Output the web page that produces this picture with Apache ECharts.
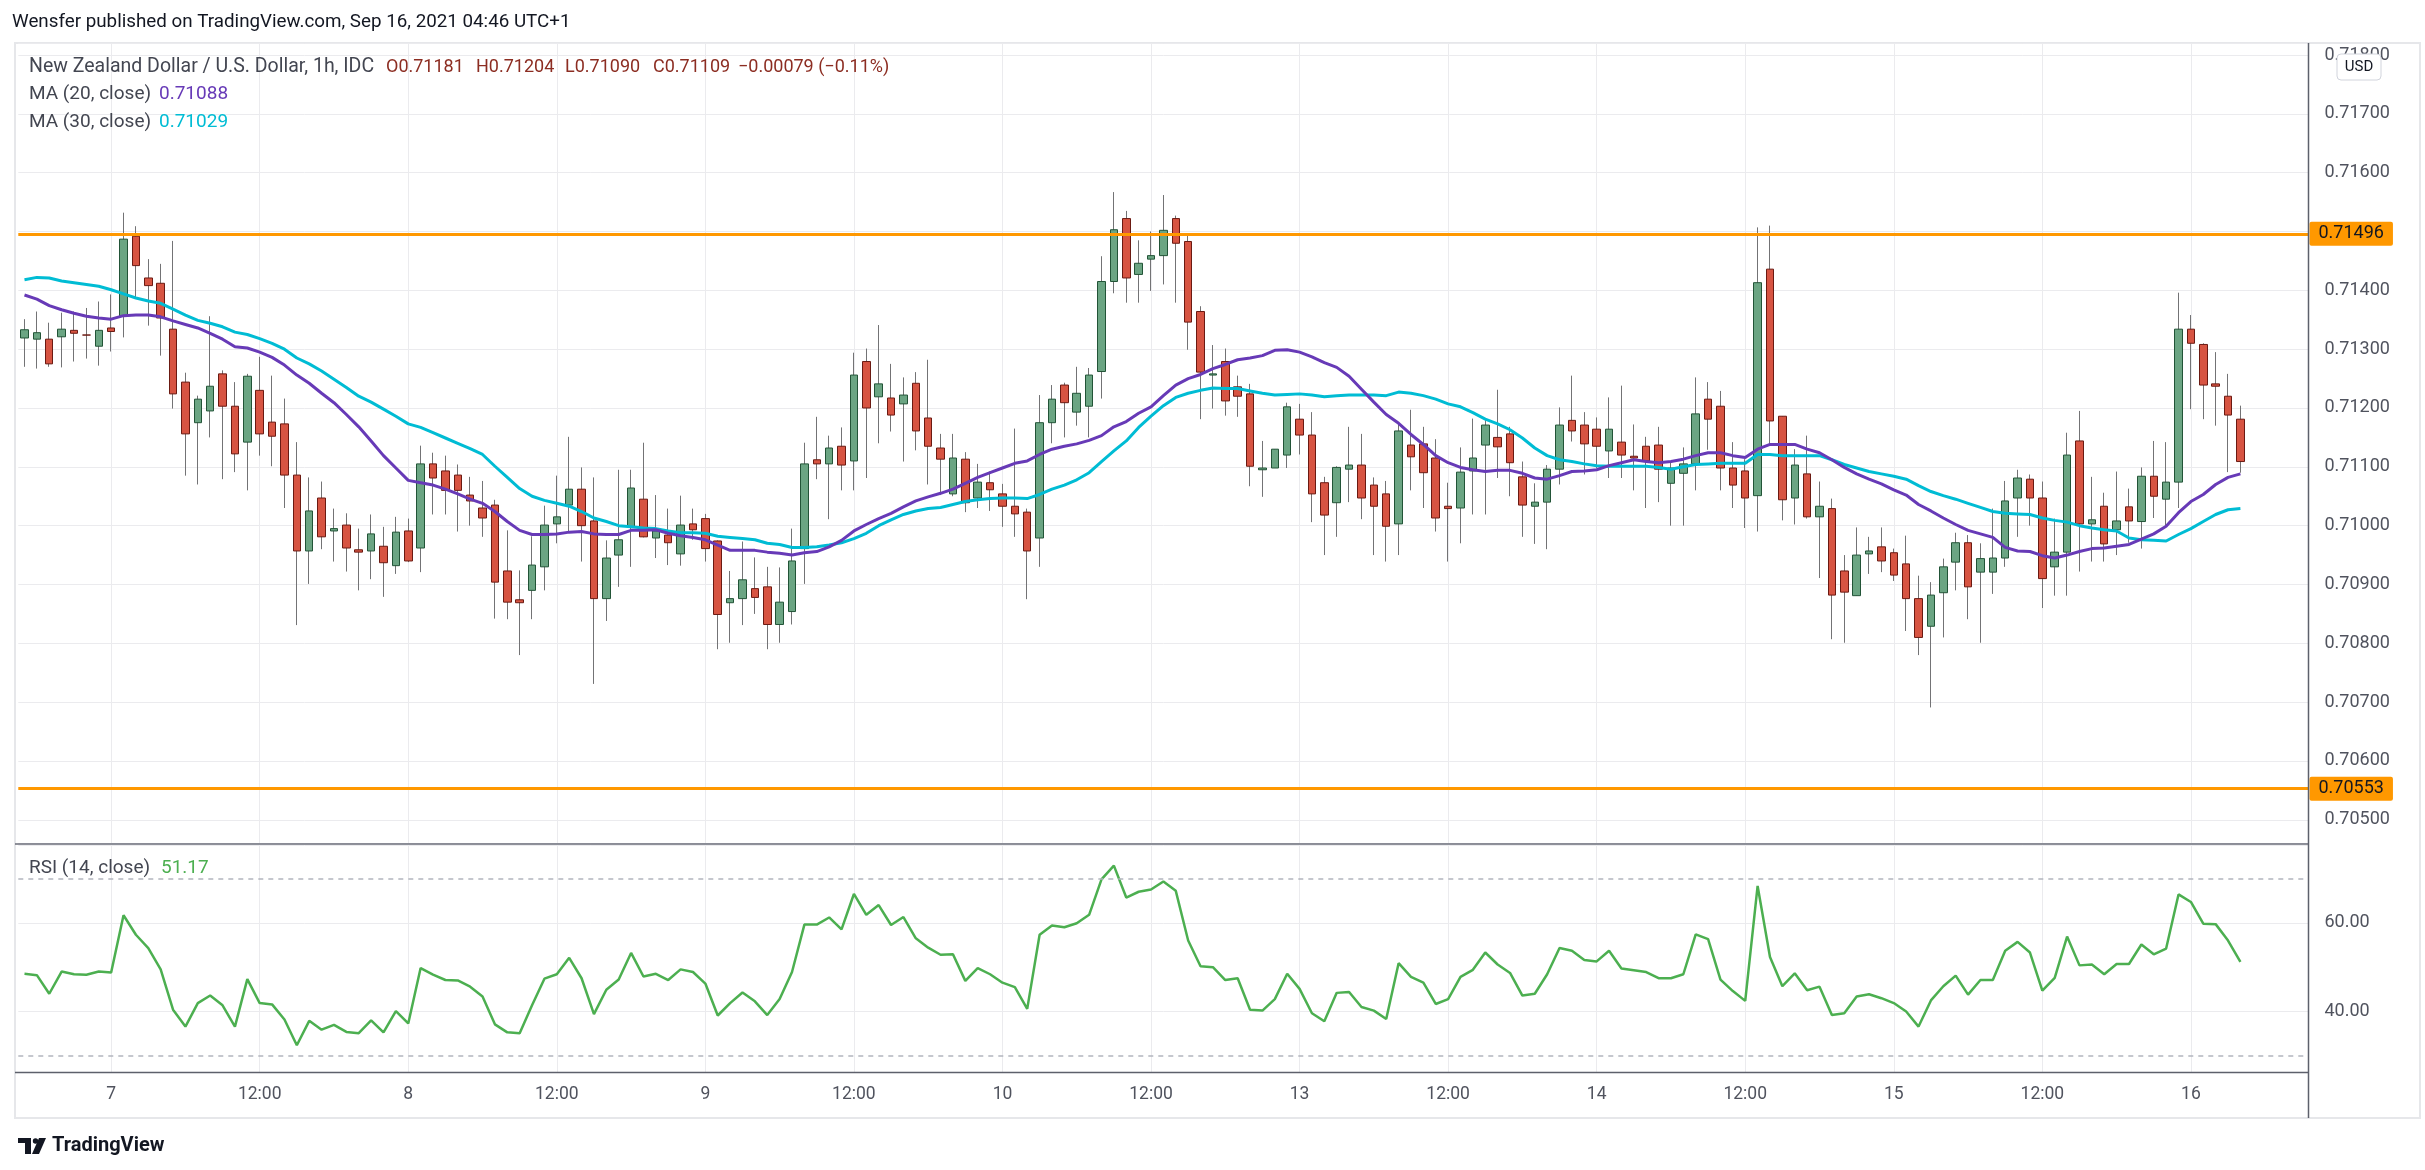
<!DOCTYPE html>
<html><head><meta charset="utf-8">
<script src="https://cdn.jsdelivr.net/npm/echarts@6/dist/echarts.min.js"></script>
<style>html,body{margin:0;padding:0;background:#fff}#c{width:2425px;height:1170px}</style>
</head><body><div id="c"></div>
<script>
// hourly sessions (UTC+1): [first candle, number of hourly slots]
const sessions = [["2021-09-06 17:00", 101], ["2021-09-12 22:00", 84]];

const opens = [0.71319,0.71317,0.71317,0.71321,0.71332,0.71324,0.71305,0.71336,0.71356,0.71492,
0.71421,0.71412,0.71334,0.71244,0.71175,0.71195,0.71258,0.71203,0.71142,0.71230,
0.71176,0.71173,0.71086,0.70957,0.71047,0.70991,0.71001,0.70959,0.70957,0.70965,
0.70932,0.70991,0.70962,0.71105,0.71093,0.71086,0.71052,0.71030,0.71035,0.70923,
0.70874,0.70890,0.70930,0.71003,0.71035,0.71062,0.71008,0.70876,0.70950,0.70998,
0.71045,0.70979,0.70984,0.70952,0.71003,0.71012,0.70974,0.70869,0.70876,0.70893,
0.70896,0.70832,0.70854,0.70961,0.71112,0.71105,0.71135,0.71110,0.71279,0.71219,
0.71217,0.71207,0.71242,0.71183,0.71132,0.71054,0.71113,0.71047,0.71073,0.71054,
0.71033,0.71023,0.70979,0.71175,0.71239,0.71193,0.71203,0.71262,0.71415,0.71522,
0.71427,0.71453,0.71459,0.71522,0.71483,0.71364,0.71256,0.71279,0.71236,0.71224,
0.71095,0.71098,0.71120,0.71181,0.71154,0.71073,0.71039,0.71096,0.71103,0.71069,
0.71054,0.71003,0.71137,0.71139,0.71115,0.71033,0.71030,0.71093,0.71137,0.71150,
0.71156,0.71083,0.71033,0.71040,0.71096,0.71179,0.71171,0.71164,0.71127,0.71142,
0.71118,0.71135,0.71137,0.71072,0.71089,0.71105,0.71215,0.71203,0.71098,0.71093,
0.71051,0.71436,0.71186,0.71047,0.71088,0.71015,0.71029,0.70923,0.70881,0.70952,
0.70964,0.70954,0.70935,0.70876,0.70829,0.70886,0.70938,0.70971,0.70921,0.70921,
0.70945,0.71047,0.71079,0.71047,0.70930,0.70955,0.71144,0.71003,0.71033,0.70993,
0.71032,0.71007,0.71084,0.71045,0.71074,0.71334,0.71308,0.71241,0.71220,0.71181];

const highs = [0.71351,0.71364,0.71345,0.71362,0.71364,0.71370,0.71381,0.71393,0.71532,0.71509,
0.71453,0.71445,0.71484,0.71260,0.71221,0.71356,0.71264,0.71244,0.71258,0.71287,
0.71255,0.71216,0.71142,0.71082,0.71075,0.71029,0.71021,0.70995,0.71019,0.70998,
0.71015,0.71012,0.71136,0.71124,0.71119,0.71104,0.71083,0.71076,0.71044,0.70992,
0.70924,0.70982,0.71034,0.71085,0.71151,0.71099,0.71082,0.70975,0.71095,0.71095,
0.71141,0.71052,0.71029,0.71051,0.71029,0.71020,0.70975,0.70923,0.70973,0.70946,
0.70930,0.70929,0.70995,0.71141,0.71185,0.71153,0.71167,0.71294,0.71301,0.71341,
0.71275,0.71252,0.71261,0.71282,0.71156,0.71156,0.71125,0.71105,0.71092,0.71071,
0.71165,0.71029,0.71222,0.71239,0.71243,0.71270,0.71268,0.71458,0.71567,0.71535,
0.71485,0.71500,0.71562,0.71527,0.71493,0.71373,0.71307,0.71301,0.71255,0.71241,
0.71144,0.71130,0.71209,0.71207,0.71193,0.71083,0.71101,0.71168,0.71156,0.71082,
0.71076,0.71174,0.71197,0.71168,0.71147,0.71073,0.71133,0.71182,0.71182,0.71231,
0.71168,0.71109,0.71072,0.71103,0.71201,0.71255,0.71193,0.71184,0.71218,0.71238,
0.71172,0.71151,0.71168,0.71107,0.71133,0.71252,0.71244,0.71229,0.71142,0.71113,
0.71507,0.71510,0.71186,0.71130,0.71153,0.71075,0.71046,0.70950,0.70997,0.70981,
0.70997,0.70961,0.70983,0.70915,0.70904,0.70944,0.70988,0.70984,0.70970,0.71029,
0.71076,0.71095,0.71087,0.71075,0.71012,0.71158,0.71195,0.71083,0.71056,0.71092,
0.71063,0.71099,0.71144,0.71142,0.71396,0.71358,0.71310,0.71295,0.71258,0.71204];

const lows = [0.71270,0.71267,0.71270,0.71269,0.71279,0.71284,0.71272,0.71296,0.71320,0.71388,
0.71340,0.71289,0.71199,0.71085,0.71070,0.71150,0.71079,0.71091,0.71060,0.71119,
0.71101,0.71030,0.70831,0.70901,0.70960,0.70939,0.70922,0.70890,0.70909,0.70879,
0.70918,0.70938,0.70921,0.71019,0.71019,0.70990,0.71000,0.70981,0.70842,0.70841,
0.70780,0.70841,0.70890,0.70970,0.70990,0.70939,0.70731,0.70838,0.70896,0.70930,
0.70980,0.70945,0.70933,0.70932,0.70976,0.70939,0.70790,0.70801,0.70831,0.70850,
0.70790,0.70801,0.70832,0.70901,0.71079,0.71011,0.71060,0.71060,0.71081,0.71140,
0.71160,0.71109,0.71128,0.71070,0.71052,0.71050,0.71023,0.71030,0.71025,0.70998,
0.70981,0.70875,0.70930,0.71140,0.71150,0.71170,0.71150,0.71216,0.71395,0.71379,
0.71379,0.71399,0.71410,0.71379,0.71299,0.71181,0.71199,0.71187,0.71185,0.71067,
0.71049,0.71098,0.71098,0.71121,0.71006,0.70950,0.70981,0.71040,0.71011,0.70950,
0.70939,0.70950,0.71060,0.71030,0.70990,0.70939,0.70970,0.71019,0.71019,0.71081,
0.71050,0.70981,0.70969,0.70960,0.71070,0.71143,0.71087,0.71098,0.71081,0.71081,
0.71060,0.71030,0.71040,0.71000,0.71000,0.71060,0.71129,0.71060,0.71030,0.70996,
0.70990,0.71137,0.71009,0.71002,0.71012,0.70911,0.70807,0.70801,0.70881,0.70918,
0.70921,0.70906,0.70821,0.70780,0.70691,0.70810,0.70890,0.70841,0.70801,0.70884,
0.70930,0.70981,0.71000,0.70860,0.70881,0.70881,0.70922,0.70939,0.70939,0.70950,
0.70971,0.70961,0.71013,0.70999,0.71030,0.71198,0.71181,0.71170,0.71091,0.71090];

const closes = [0.71333,0.71328,0.71275,0.71334,0.71327,0.71324,0.71332,0.71330,0.71487,0.71442,
0.71408,0.71353,0.71224,0.71156,0.71215,0.71237,0.71203,0.71122,0.71254,0.71156,
0.71152,0.71086,0.70957,0.71025,0.70981,0.70995,0.70962,0.70955,0.70986,0.70937,
0.70989,0.70940,0.71105,0.71081,0.71060,0.71060,0.71042,0.71013,0.70904,0.70870,
0.70869,0.70933,0.71001,0.71015,0.71062,0.71000,0.70876,0.70945,0.70976,0.71064,
0.70981,0.70991,0.70971,0.71001,0.70993,0.70961,0.70849,0.70876,0.70908,0.70878,
0.70832,0.70870,0.70940,0.71105,0.71105,0.71132,0.71103,0.71256,0.71200,0.71241,
0.71188,0.71222,0.71161,0.71135,0.71113,0.71115,0.71039,0.71074,0.71061,0.71033,
0.71020,0.70957,0.71175,0.71215,0.71209,0.71225,0.71256,0.71415,0.71503,0.71421,
0.71446,0.71459,0.71502,0.71480,0.71346,0.71261,0.71258,0.71212,0.71220,0.71101,
0.71098,0.71130,0.71202,0.71154,0.71054,0.71018,0.71099,0.71103,0.71047,0.71033,
0.70999,0.71161,0.71117,0.71090,0.71013,0.71029,0.71091,0.71115,0.71171,0.71134,
0.71107,0.71035,0.71040,0.71096,0.71171,0.71161,0.71139,0.71135,0.71164,0.71120,
0.71115,0.71110,0.71096,0.71098,0.71105,0.71190,0.71181,0.71098,0.71069,0.71047,
0.71413,0.71178,0.71044,0.71103,0.71015,0.71033,0.70882,0.70887,0.70950,0.70957,
0.70940,0.70916,0.70876,0.70810,0.70882,0.70930,0.70971,0.70896,0.70944,0.70945,
0.71042,0.71081,0.71047,0.70910,0.70955,0.71120,0.71003,0.71010,0.70969,0.71008,
0.71008,0.71084,0.71050,0.71074,0.71334,0.71310,0.71239,0.71237,0.71188,0.71109];

const ma20 = [0.71392,0.71385,0.71374,0.71367,0.71361,0.71356,0.71353,0.71351,0.71357,0.71358,
0.71358,0.71355,0.71348,0.71342,0.71336,0.71327,0.71317,0.71304,0.71302,0.71295,
0.71286,0.71273,0.71256,0.71242,0.71225,0.71209,0.71189,0.71168,0.71144,0.71119,
0.71098,0.71077,0.71073,0.71069,0.71062,0.71054,0.71045,0.71038,0.71024,0.71007,
0.70992,0.70985,0.70985,0.70986,0.70989,0.70990,0.70986,0.70985,0.70985,0.70992,
0.70992,0.70993,0.70987,0.70983,0.70980,0.70976,0.70967,0.70958,0.70958,0.70958,
0.70955,0.70953,0.70950,0.70954,0.70956,0.70964,0.70975,0.70991,0.71002,0.71012,
0.71021,0.71032,0.71042,0.71049,0.71055,0.71062,0.71072,0.71082,0.71090,0.71098,
0.71106,0.71110,0.71121,0.71130,0.71135,0.71139,0.71145,0.71153,0.71168,0.71177,
0.71191,0.71202,0.71221,0.71239,0.71250,0.71257,0.71267,0.71274,0.71282,0.71285,
0.71289,0.71298,0.71299,0.71295,0.71287,0.71277,0.71269,0.71254,0.71232,0.71210,
0.71189,0.71174,0.71155,0.71138,0.71119,0.71107,0.71099,0.71095,0.71092,0.71094,
0.71094,0.71089,0.71081,0.71079,0.71085,0.71092,0.71093,0.71095,0.71102,0.71107,
0.71112,0.71109,0.71107,0.71109,0.71113,0.71119,0.71124,0.71124,0.71119,0.71116,
0.71130,0.71138,0.71138,0.71138,0.71130,0.71124,0.71112,0.71099,0.71088,0.71079,
0.71071,0.71061,0.71052,0.71036,0.71025,0.71013,0.71002,0.70992,0.70986,0.70980,
0.70963,0.70957,0.70956,0.70949,0.70945,0.70950,0.70956,0.70961,0.70962,0.70965,
0.70968,0.70977,0.70986,0.70999,0.71022,0.71041,0.71053,0.71070,0.71082,0.71088];

const ma30 = [0.71418,0.71422,0.71421,0.71416,0.71413,0.71410,0.71407,0.71401,0.71394,0.71387,
0.71382,0.71378,0.71368,0.71358,0.71349,0.71344,0.71338,0.71329,0.71325,0.71318,
0.71310,0.71300,0.71285,0.71275,0.71263,0.71249,0.71235,0.71220,0.71210,0.71198,
0.71186,0.71173,0.71167,0.71158,0.71149,0.71140,0.71131,0.71121,0.71101,0.71082,
0.71063,0.71050,0.71043,0.71038,0.71033,0.71024,0.71013,0.71007,0.71000,0.70998,
0.70996,0.70995,0.70991,0.70988,0.70988,0.70987,0.70982,0.70980,0.70978,0.70976,
0.70970,0.70968,0.70963,0.70963,0.70964,0.70967,0.70971,0.70978,0.70987,0.71000,
0.71010,0.71019,0.71025,0.71029,0.71031,0.71036,0.71041,0.71044,0.71046,0.71047,
0.71047,0.71046,0.71053,0.71062,0.71069,0.71078,0.71090,0.71109,0.71127,0.71144,
0.71167,0.71186,0.71204,0.71218,0.71225,0.71230,0.71234,0.71233,0.71233,0.71229,
0.71225,0.71222,0.71223,0.71224,0.71222,0.71219,0.71221,0.71222,0.71222,0.71222,
0.71221,0.71227,0.71225,0.71221,0.71215,0.71207,0.71202,0.71192,0.71181,0.71173,
0.71163,0.71149,0.71132,0.71119,0.71112,0.71109,0.71105,0.71102,0.71101,0.71101,
0.71101,0.71101,0.71099,0.71096,0.71100,0.71104,0.71105,0.71106,0.71106,0.71106,
0.71121,0.71121,0.71119,0.71119,0.71119,0.71119,0.71112,0.71104,0.71098,0.71092,
0.71088,0.71084,0.71079,0.71068,0.71058,0.71051,0.71045,0.71038,0.71031,0.71024,
0.71021,0.71020,0.71019,0.71013,0.71009,0.71006,0.71000,0.70996,0.70993,0.70991,
0.70979,0.70976,0.70975,0.70974,0.70985,0.70995,0.71007,0.71019,0.71027,0.71029];

const rsi = [48.5,48.2,44.0,49.0,48.4,48.3,49.0,48.8,61.7,57.3,
54.3,49.5,40.4,36.6,41.9,43.6,41.4,36.6,47.3,41.9,
41.6,38.2,32.4,37.9,35.9,37.0,35.4,35.1,38.0,35.3,
40.1,37.3,49.8,48.3,47.1,47.0,45.6,43.4,37.1,35.3,
35.1,41.4,47.4,48.4,52.1,47.5,39.4,44.9,47.2,53.2,
47.9,48.5,47.1,49.5,48.9,46.3,39.1,41.9,44.3,42.3,
39.2,42.8,48.9,59.6,59.6,61.2,58.5,66.5,61.8,64.0,
59.5,61.3,56.5,54.4,52.8,52.9,46.9,49.8,48.4,46.5,
45.5,40.6,57.3,59.4,59.0,59.9,61.8,69.8,72.9,65.7,
67.0,67.5,69.3,67.2,56.0,50.2,50.0,47.1,47.5,40.4,
40.2,42.8,48.5,45.1,39.6,37.8,44.2,44.4,41.0,40.2,
38.3,50.9,47.8,46.5,41.7,42.8,47.8,49.4,53.3,50.6,
48.7,43.6,44.0,48.4,54.3,53.7,51.6,51.3,53.7,49.7,
49.3,48.9,47.5,47.5,48.4,57.4,56.3,47.2,44.6,42.4,
68.3,52.3,45.7,48.6,44.8,45.6,39.2,39.6,43.4,43.9,
43.0,41.9,40.0,36.6,42.5,45.7,48.1,43.8,47.1,47.1,
53.7,55.7,53.3,44.7,47.6,56.9,50.4,50.6,48.4,50.7,
50.7,55.1,52.9,54.2,66.4,64.7,59.8,59.7,56.0,51.17];

const levels = [0.71496, 0.70553];
const rsiBands = [70, 30];
const tickIdx = [7,19,31,43,55,67,79,91,103,115,127,139,151,163,175];
const tickText = ['7','12:00','8','12:00','9','12:00','10','12:00','13','12:00','14','12:00','15','12:00','16'];

// build category list
const times = [];
for (const [start, count] of sessions) {
  const t0 = Date.parse(start.replace(' ', 'T') + ':00Z');
  for (let k = 0; k < count; k++) {
    times.push(new Date(t0 + k * 3600000).toISOString().slice(0, 16).replace('T', ' '));
  }
}

const N = opens.length, last = N - 1;
const fullCandles = opens.map((o, i) => [o, closes[i], lows[i], highs[i]]);
const bodies = opens.map((o, i) => [o, closes[i], Math.min(o, closes[i]), Math.max(o, closes[i])]);
const chg = closes[last] - closes[last - 1];
const chgPct = chg / closes[last - 1] * 100;
const signed = (v, d) => (v < 0 ? '\u2212' : '') + Math.abs(v).toFixed(d);

const FONT = 'Roboto';
const AXR = 2308.5;
const GL = 18.3, GR = 2425 - AXR;
const isTick = i => tickIdx.indexOf(i) >= 0;

const chart = echarts.init(document.getElementById('c'), null, {renderer: 'canvas'});
const txt = (x, y, text, color, size, extra) => ({
  type: 'text', x: x, y: y, silent: true, z: 100,
  style: Object.assign({text: text, fill: color, fontSize: size || 19, fontFamily: FONT, fontWeight: 'normal',
                        verticalAlign: 'middle', align: 'left'}, extra || {})
});
const legendColor = '#8c2d22';
const option = {
  animation: false,
  backgroundColor: '#ffffff',
  textStyle: {fontFamily: FONT},
  grid: [
    {left: GL, right: GR, top: 43, height: 800, containLabel: false, outerBoundsMode: 'none'},
    {left: GL, right: GR, top: 845, height: 227, containLabel: false, outerBoundsMode: 'none'}
  ],
  xAxis: [0, 1].map(g => ({
    type: 'category', gridIndex: g, data: times, boundaryGap: true,
    axisLine: {show: false}, axisTick: {show: false},
    axisLabel: g === 1 ? {
      show: true, interval: (i) => isTick(i),
      formatter: (v, i) => tickText[tickIdx.indexOf(i)],
      color: '#50535e', fontSize: 17.5, margin: 14, fontFamily: FONT
    } : {show: false},
    splitLine: {show: true, alignWithLabel: true, interval: (i) => isTick(i), lineStyle: {color: '#ebebee', width: 1}}
  })),
  yAxis: [
    {type: 'value', gridIndex: 0, position: 'right', min: 0.704606, max: 0.718204, splitNumber: 13, scale: true,
     axisLine: {show: false}, axisTick: {show: false},
     axisLabel: {formatter: v => v.toFixed(5), color: '#50535e', fontSize: 18, margin: 16, showMinLabel: false, showMaxLabel: false, fontFamily: FONT},
     splitLine: {lineStyle: {color: '#ebebee', width: 1}}},
    {type: 'value', gridIndex: 1, position: 'right', min: 26.36, max: 77.54, splitNumber: 3, scale: true,
     axisLine: {show: false}, axisTick: {show: false},
     axisLabel: {formatter: v => v.toFixed(2), color: '#50535e', fontSize: 18, margin: 16, showMinLabel: false, showMaxLabel: false, fontFamily: FONT},
     splitLine: {lineStyle: {color: '#ebebee', width: 1}}}
  ],
  series: [
    {type: 'candlestick', name: 'wick', xAxisIndex: 0, yAxisIndex: 0, data: fullCandles, barWidth: 1, z: 2,
     silent: true,
     itemStyle: {color: '#737375', color0: '#737375', borderColor: '#737375', borderColor0: '#737375', borderWidth: 1}},
    {type: 'candlestick', name: 'body', xAxisIndex: 0, yAxisIndex: 0, data: bodies, barWidth: 8, z: 3,
     silent: true,
     itemStyle: {color: '#6ba583', color0: '#d75442', borderColor: '#225437', borderColor0: '#6b1a12', borderWidth: 1}},
    {type: 'line', name: 'MA30', xAxisIndex: 0, yAxisIndex: 0, data: ma30, showSymbol: false, symbol: 'none', z: 4,
     silent: true, lineStyle: {color: '#00bcd4', width: 3}},
    {type: 'line', name: 'MA20', xAxisIndex: 0, yAxisIndex: 0, data: ma20, showSymbol: false, symbol: 'none', z: 5,
     silent: true, lineStyle: {color: '#673ab7', width: 3},
     markLine: {
       silent: true, symbol: ['none', 'none'], animation: false, precision: 6,
       lineStyle: {color: '#ff9800', width: 3, type: 'solid'},
       label: {show: true, position: 'end', distance: 1, backgroundColor: '#ff9800', color: '#131722',
               fontSize: 18, fontFamily: FONT, padding: [3, 9, 3, 9], borderRadius: 2},
       data: levels.map(v => ({yAxis: v, label: {formatter: v.toFixed(5)}}))
     }},
    {type: 'line', name: 'RSI', xAxisIndex: 1, yAxisIndex: 1, data: rsi, showSymbol: false, symbol: 'none', z: 4,
     silent: true, lineStyle: {color: '#4caf50', width: 2.5},
     markLine: {silent: true, symbol: ['none', 'none'], animation: false, label: {show: false},
                lineStyle: {color: '#b2b5be', width: 1.5, type: [5, 5]},
                data: rsiBands.map(v => ({yAxis: v}))}}
  ],
  graphic: [
    {type: 'rect', silent: true, z: -10, shape: {x: 15, y: 43, width: 2405, height: 1075}, style: {fill: 'none', stroke: '#e6e7ea', lineWidth: 2}},
    {type: 'line', silent: true, z: 50, shape: {x1: 15, y1: 844, x2: AXR, y2: 844}, style: {stroke: '#6a6d78', lineWidth: 1.5}},
    {type: 'line', silent: true, z: 50, shape: {x1: 15, y1: 1072.5, x2: AXR, y2: 1072.5}, style: {stroke: '#5d606b', lineWidth: 1.5}},
    {type: 'line', silent: true, z: 50, shape: {x1: AXR, y1: 43, x2: AXR, y2: 1118}, style: {stroke: '#5d606b', lineWidth: 1.5}},
    txt(12, 22, 'Wensfer published on TradingView.com, Sep 16, 2021 04:46 UTC+1', '#131722', 18.8),
    txt(29, 67, 'New Zealand Dollar / U.S. Dollar, 1h, IDC', '#434651', 19.5),
    txt(386, 67, 'O' + opens[last].toFixed(5), legendColor, 18),
    txt(476, 67, 'H' + highs[last].toFixed(5), legendColor, 18),
    txt(565, 67, 'L' + lows[last].toFixed(5), legendColor, 18),
    txt(653, 67, 'C' + closes[last].toFixed(5), legendColor, 18),
    txt(738, 67, signed(chg, 5) + ' (' + signed(chgPct, 2) + '%)', legendColor, 18),
    txt(29, 94, 'MA (20, close)', '#434651', 19),
    txt(159, 94, ma20[last].toFixed(5), '#673ab7', 19),
    txt(29, 122, 'MA (30, close)', '#434651', 19),
    txt(159, 122, ma30[last].toFixed(5), '#00bcd4', 19),
    txt(29, 868, 'RSI (14, close)', '#434651', 19),
    txt(161, 868, rsi[last].toFixed(2), '#4caf50', 19),
    {type: 'rect', silent: true, z: 100, shape: {x: 2337, y: 54, width: 44, height: 26, r: 4}, style: {fill: '#ffffff', stroke: '#d1d4dc', lineWidth: 1}},
    txt(2359, 67, 'USD', '#131722', 15, {align: 'center'}),
    {type: 'polygon', silent: true, z: 100, shape: {points: [[18,1138],[31,1138],[31,1154],[25,1154],[25,1143],[18,1143]]}, style: {fill: '#131722'}},
    {type: 'circle', silent: true, z: 100, shape: {cx: 35.5, cy: 1141, r: 2.7}, style: {fill: '#131722'}},
    {type: 'polygon', silent: true, z: 100, shape: {points: [[39,1138],[46,1138],[39,1154],[32,1154]]}, style: {fill: '#131722'}},
    txt(52, 1146, 'TradingView', '#131722', 20, {fontWeight: 'bold'})
  ]
};
chart.setOption(option);
</script>
</body></html>
